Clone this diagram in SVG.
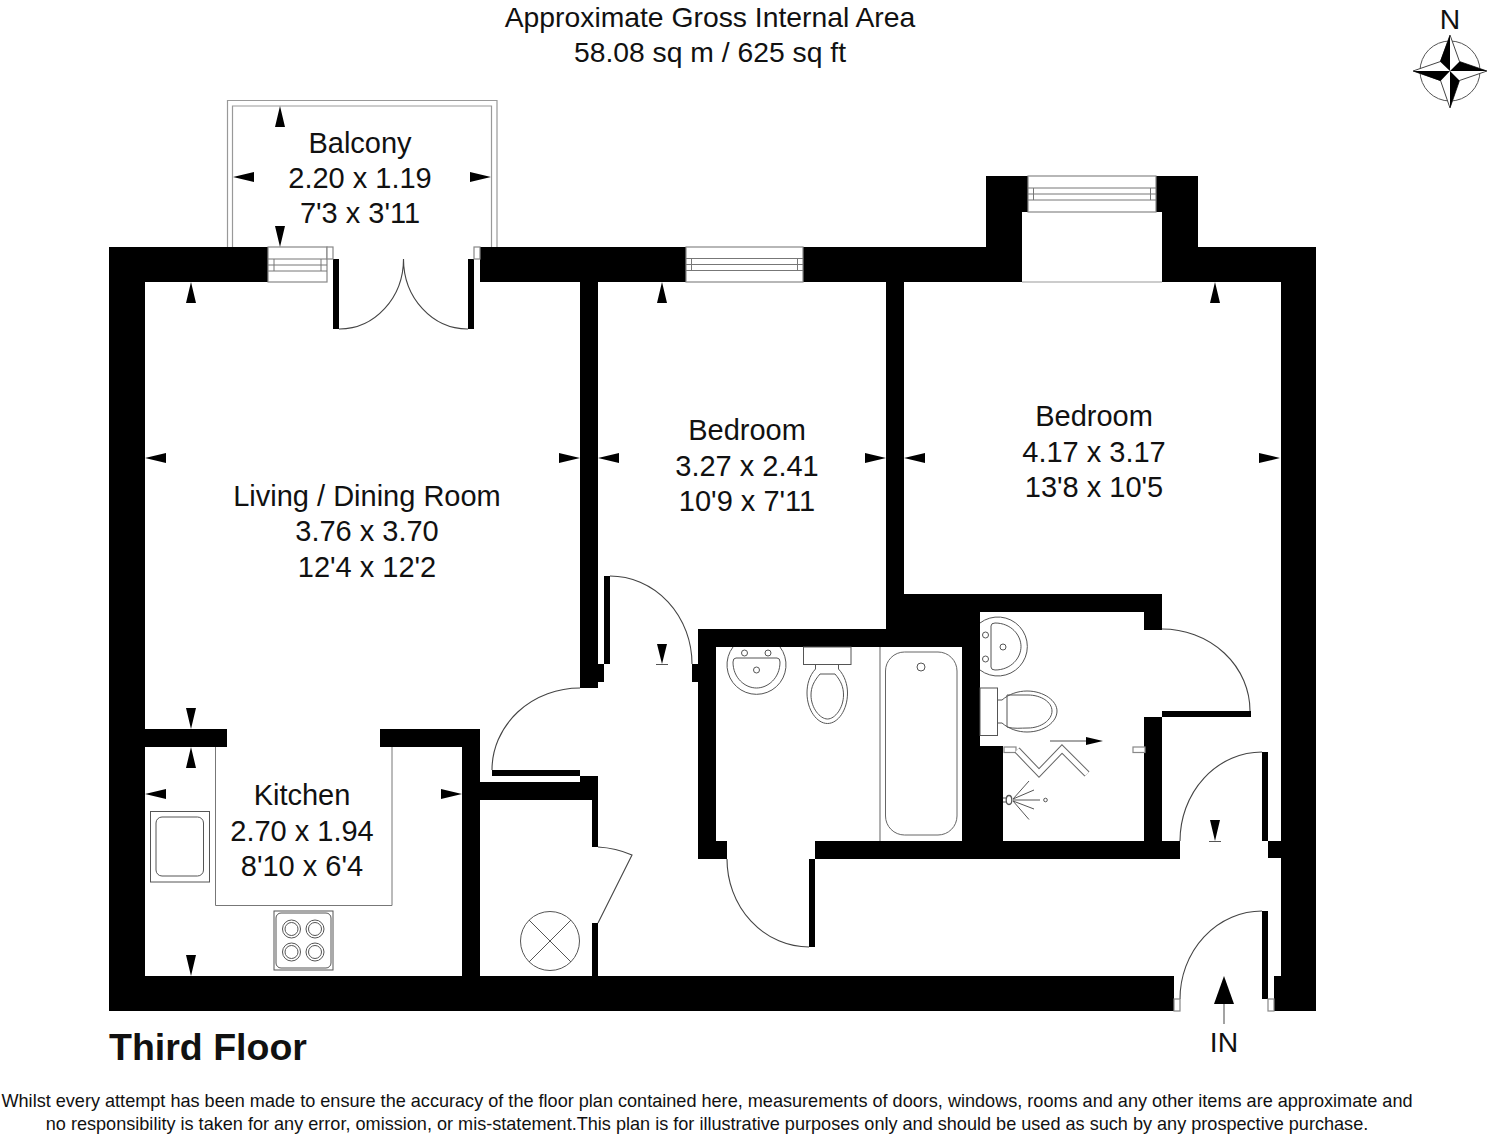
<svg xmlns="http://www.w3.org/2000/svg" width="1488" height="1136" viewBox="0 0 1488 1136">
<style>
text{font-family:"Liberation Sans",Arial,sans-serif;fill:#111;text-anchor:middle}
.t{font-size:29px}
.h{font-size:28.300px}
.d{font-size:18.100px}
.g{fill:#fff;stroke:#888;stroke-width:1.2}
.l{fill:none;stroke:#555;stroke-width:1}
.a{fill:none;stroke:#444;stroke-width:1.1}
.w{fill:#000}
</style>
<rect width="1488" height="1136" fill="#fff"/>
<g id="balcony" fill="none" stroke="#999" stroke-width="1.200">
<path d="M227.500 247V100.500H497V247"/><path d="M232.500 247V106H491.500V247"/>
</g>
<g id="walls" class="w">
<rect x="109" y="247" width="159" height="35"/>
<rect x="480" y="247" width="206" height="35"/>
<rect x="803" y="247" width="219" height="35"/>
<rect x="986" y="176" width="42" height="36"/>
<rect x="986" y="212" width="36" height="36"/>
<rect x="1156" y="176" width="42" height="36"/>
<rect x="1162" y="212" width="36" height="36"/>
<rect x="1162" y="247" width="154" height="35"/>
<rect x="109" y="247" width="36" height="764"/>
<rect x="109" y="976" width="1065" height="35"/>
<rect x="1281" y="247" width="35" height="764"/>
<rect x="1274" y="976" width="42" height="35"/>
<rect x="1268" y="841" width="48" height="17"/>
<rect x="109" y="729" width="118" height="18"/>
<rect x="380" y="729" width="100" height="18"/>
<rect x="462" y="729" width="18" height="247"/>
<rect x="462" y="782" width="136" height="18"/>
<rect x="580" y="776" width="18" height="6"/>
<rect x="592" y="800" width="6" height="47"/>
<rect x="592" y="923" width="6" height="53"/>
<rect x="580" y="282" width="18" height="406"/>
<rect x="580" y="664" width="24" height="18"/>
<rect x="886" y="282" width="18" height="347"/>
<rect x="886" y="594" width="276" height="18"/>
<rect x="886" y="612" width="94" height="35"/>
<rect x="1144" y="594" width="18" height="36"/>
<rect x="698" y="629" width="282" height="18"/>
<rect x="962" y="612" width="18" height="134"/>
<rect x="962" y="746" width="41" height="95"/>
<rect x="698" y="629" width="18" height="230"/>
<rect x="692" y="664" width="6" height="18"/>
<rect x="698" y="841" width="29" height="18"/>
<rect x="815" y="841" width="365" height="18"/>
<rect x="1144" y="717" width="18" height="124"/>
</g>
<g id="windows" class="l">
<rect class="g" x="268" y="247" width="59" height="35"/>
<path d="M268 259H327M268 271H327M268 265H327M274 259V271M321 259V271" stroke="#777"/>
<rect class="g" x="686" y="247" width="117" height="35"/>
<path d="M686 258.500H803M686 270.500H803M686 264.500H803M691.500 258.500V270.500M797.500 258.500V270.500" stroke="#777"/>
<rect class="g" x="1028" y="176" width="128" height="36"/>
<path d="M1028 188H1156M1028 200H1156M1028 194H1156M1033.500 188V200M1150.500 188V200" stroke="#777"/>
<path d="M1022 282H1162" stroke="#999"/>
</g>
<g id="doors">
<g class="w">
<rect x="333" y="259" width="6" height="70"/>
<rect x="468" y="259" width="6" height="70"/>
<rect x="604" y="576" width="6" height="88"/>
<rect x="492" y="770" width="88" height="6"/>
<rect x="809" y="859" width="6" height="88"/>
<rect x="1162" y="711" width="89" height="6"/>
<rect x="1262" y="752" width="6" height="89"/>
<rect x="1262" y="911" width="6" height="88"/>
</g>
<g class="a">
<path d="M339 329A64 70 0 0 0 403.500 259A64 70 0 0 0 468 329"/>
<path d="M610 576A82 88 0 0 1 692 664"/>
<path d="M492 770A88 82 0 0 1 580 688"/>
<path d="M727 859A82 88 0 0 0 809 947"/>
<path d="M1162 629A88 82 0 0 1 1250 711"/>
<path d="M1262 752A82 89 0 0 0 1180 841"/>
<path d="M1262 911A82 88 0 0 0 1180 999"/>
<path d="M598 847Q616 848 632 855L598 923"/>
</g>
<g class="g">
<rect x="327" y="247" width="6" height="12"/>
<rect x="474" y="247" width="6" height="12"/>
<rect x="1174" y="999" width="6" height="12"/>
<rect x="1268" y="999" width="6" height="12"/>
</g>
</g>
<g id="kitchen-fittings" class="l">
<path d="M215.500 747V905.500H392V747" stroke="#777"/>
<rect x="150.500" y="811.500" width="59" height="70.500"/>
<rect x="156" y="817" width="47.500" height="59" rx="6"/>
<rect x="274" y="911" width="59" height="59"/>
<rect x="276" y="913" width="55" height="55" rx="5"/>
<g id="rings">
<circle cx="291.500" cy="929" r="9"/><circle cx="291.500" cy="929" r="6.500"/>
<circle cx="315" cy="929" r="9"/><circle cx="315" cy="929" r="6.500"/>
<circle cx="291.500" cy="952" r="9"/><circle cx="291.500" cy="952" r="6.500"/>
<circle cx="315" cy="952" r="9"/><circle cx="315" cy="952" r="6.500"/>
</g>
<circle cx="550" cy="941" r="29.500"/>
<path d="M529 920L571 962M571 920L529 962"/>
</g>
<g id="bathroom-fittings" class="l">
<path d="M733 647A29.500 29.500 0 1 0 780 647"/>
<path d="M736 658H777Q780 658 780 662C780 678 768 688 756.500 688C745 688 733 678 733 662Q733 658 736 658Z"/>
<circle cx="744.500" cy="653" r="3"/><circle cx="768" cy="653" r="3"/><circle cx="756.500" cy="670" r="3"/>
<rect x="803.500" y="647" width="47.500" height="17.500"/>
<path d="M815.500 664.500V669C809 676 807 685 807 693C807 710 817 723.500 827.500 723.500C838 723.500 847.500 710 847.500 693C847.500 685 845 676 838.500 669V664.500"/>
<path d="M820 674H835C841 681 843.500 687 843.500 695C843.500 708 835 719 827.500 719C820 719 811 708 811 695C811 687 814 681 820 674Z"/>
<path d="M880 647V841" stroke="#888" stroke-width="1.300"/>
<rect x="885.500" y="652" width="71.500" height="183" rx="19" stroke="#666"/>
<circle cx="921" cy="667" r="4"/>
</g>
<g id="ensuite-fittings" class="l">
<path d="M980 623A29.500 29.500 0 1 1 980 670"/>
<path d="M991 626V667Q991 670 995 670C1011 670 1021 658 1021 646.500C1021 635 1011 623 995 623Q991 623 991 626Z"/>
<circle cx="985.500" cy="635" r="3"/><circle cx="985.500" cy="659" r="3"/><circle cx="1003" cy="647" r="3"/>
<rect x="980" y="688" width="17.500" height="47.500"/>
<path d="M997.500 700H1002C1009 694 1018 691 1027 691C1044 691 1057 701 1057 711C1057 722 1044 732 1027 732C1018 732 1009 729 1002 723H997.500"/>
<path d="M1007 695V727C1014 729 1020 728 1028 728C1041 728 1052 720 1052 711C1052 702 1041 695 1028 695Z"/>
<rect class="g" x="1004" y="747" width="12" height="5.500"/>
<rect class="g" x="1133" y="747" width="12" height="5.500"/>
<polyline points="1017,750 1039,773 1062,749 1087,774" fill="none" stroke="#666" stroke-width="7"/>
<polyline points="1017,750 1039,773 1062,749 1087,774" fill="none" stroke="#fff" stroke-width="5"/>
<path d="M1050 741H1086" stroke="#888" stroke-width="1.300"/>
<path d="M1086 737L1103 741L1086 745Z" fill="#000" stroke="none"/>
<path d="M1003 798H1007M1003 802H1007"/>
<ellipse cx="1009" cy="800" rx="2.800" ry="4.500" stroke-width="1.300"/>
<path d="M1013 799L1029 781M1013 799L1034 790M1013 800H1040M1013 801L1034 809M1013 801L1029 819.500"/>
<circle cx="1045.500" cy="800" r="1.800"/>
</g>
<g id="dimension-arrows" class="w">
<path d="M275 127H285L280 106ZM275 226H285L280 247ZM254 172V182L233 177ZM470 172V182L491 177Z"/>
<path d="M186 303H196L191 282ZM166 453V463L145 458ZM559 453V463L580 458ZM186 708H196L191 729Z"/>
<path d="M186 768H196L191 747ZM186 955H196L191 976ZM166 789V799L145 794ZM441 789V799L462 794Z"/>
<path d="M657 303H667L662 282ZM619 453V463L598 458ZM865 453V463L886 458ZM657 644H667L662 664Z"/>
<path d="M1210 303H1220L1215 282ZM925 453V463L904 458ZM1259 453V463L1280 458ZM1210 820H1220L1215 841Z"/>
<path d="M656 664.500H668M1209 841.500H1221" stroke="#555" stroke-width="1"/>
</g>
<g id="entrance-arrow">
<path d="M1224 1004V1024" stroke="#666" stroke-width="1.200"/>
<path d="M1214 1004H1234L1224 976Z"/>
</g>
<g id="compass">
<circle cx="1450" cy="71" r="30" fill="none" stroke="#555"/>
<path d="M1450 35L1459.500 61.500L1487 71L1459.500 80.500L1450 108L1440.500 80.500L1413 71L1440.500 61.500Z" fill="#fff" stroke="#444"/>
<path d="M1450 35L1440 61.500L1450 71ZM1487 71L1459.500 61.500L1450 71ZM1450 108L1459.500 80.500L1450 71ZM1413 71L1440.500 81L1450 71Z"/>
<text class="h" x="1450" y="29">N</text>
</g>
<g id="labels">
<text class="h" x="710" y="27">Approximate Gross Internal Area</text>
<text class="h" x="710" y="62">58.08 sq m / 625 sq ft</text>
<text class="t" x="360" y="153">Balcony</text>
<text class="t" x="360" y="188">2.20 x 1.19</text>
<text class="t" x="360" y="223">7'3 x 3'11</text>
<text class="t" x="367" y="506">Living / Dining Room</text>
<text class="t" x="367" y="541">3.76 x 3.70</text>
<text class="t" x="367" y="577">12'4 x 12'2</text>
<text class="t" x="747" y="440">Bedroom</text>
<text class="t" x="747" y="476">3.27 x 2.41</text>
<text class="t" x="747" y="511">10'9 x 7'11</text>
<text class="t" x="1094" y="426">Bedroom</text>
<text class="t" x="1094" y="462">4.17 x 3.17</text>
<text class="t" x="1094" y="497">13'8 x 10'5</text>
<text class="t" x="302" y="805">Kitchen</text>
<text class="t" x="302" y="841">2.70 x 1.94</text>
<text class="t" x="302" y="876">8'10 x 6'4</text>
<text class="h" x="1224" y="1052">IN</text>
<text x="109" y="1060" font-size="37.500" font-weight="700" style="text-anchor:start">Third Floor</text>
<text class="d" x="707" y="1107">Whilst every attempt has been made to ensure the accuracy of the floor plan contained here, measurements of doors, windows, rooms and any other items are approximate and</text>
<text class="d" x="707" y="1130">no responsibility is taken for any error, omission, or mis-statement.This plan is for illustrative purposes only and should be used as such by any prospective purchase.</text>
</g>
</svg>
